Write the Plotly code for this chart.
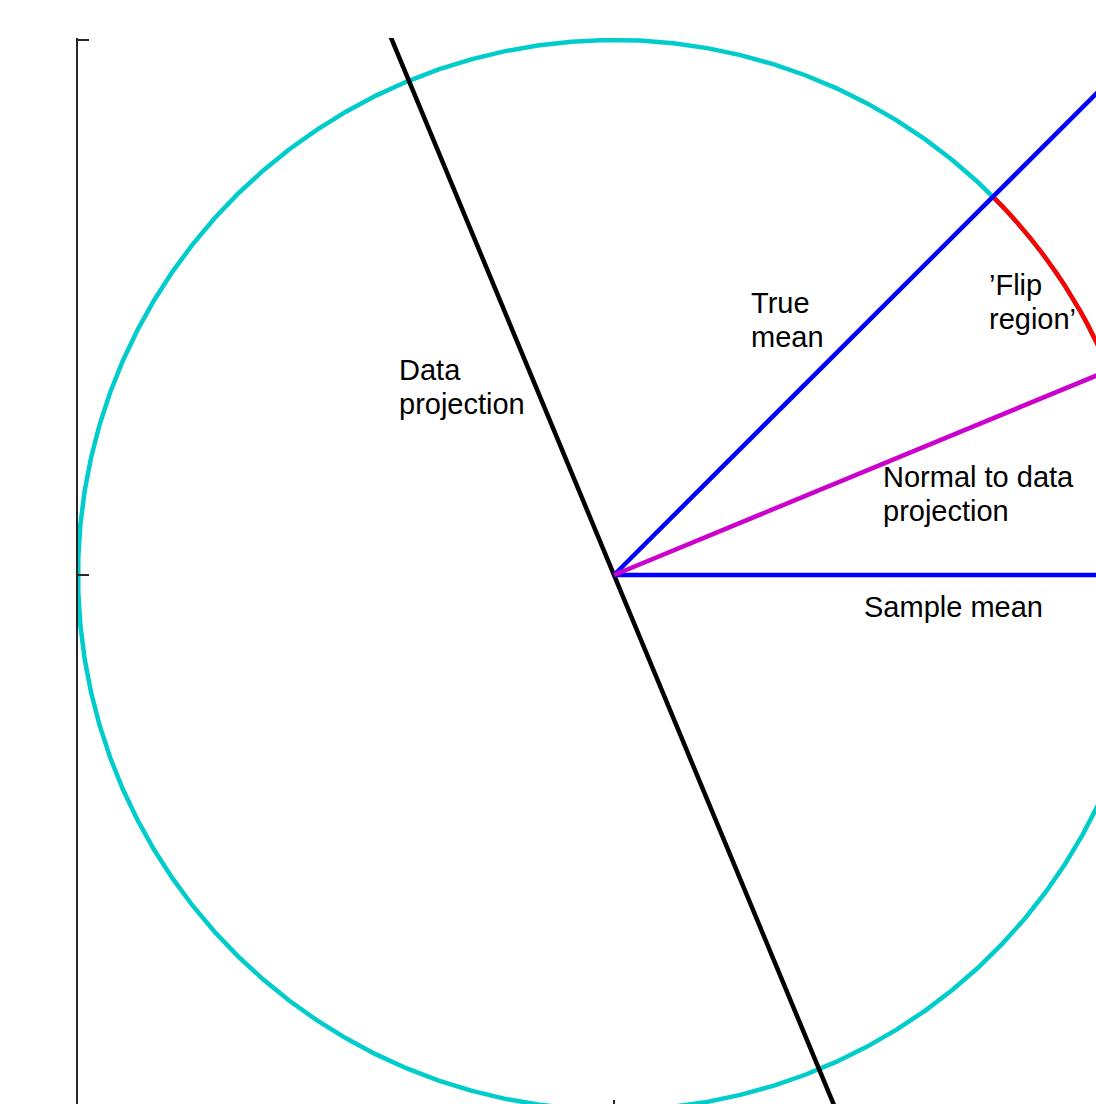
import numpy as np
import plotly.graph_objects as go

# Directions (degrees) of the rays drawn from the origin
data_projection_deg = 112.5
normal_deg = 22.5
true_mean_deg = 45.0
sample_mean_deg = 0.0

# Arc of the unit circle marked as the 'flip region' (degrees)
flip_start_deg = 45.0
flip_end_deg = 0.0

# Labels: lines of text, anchor x, anchor y (middle of the text block)
label_lines = [["Data", "projection"], ["True", "mean"], ["\u2019Flip", "region\u2019"],
               ["Normal to data", "projection"], ["Sample mean"]]
label_x = [-0.401, 0.256, 0.700, 0.502, 0.466]
label_y = [0.351, 0.477, 0.510, 0.151, -0.060]

n_circle = 100
ray_len = 1.6
lw = 4.5

cyan = "rgb(0,204,204)"
blue = "rgb(0,0,255)"
magenta = "rgb(204,0,204)"
red = "rgb(255,0,0)"

fig = go.Figure()

# unit circle
t = np.linspace(0, 2 * np.pi, n_circle)
fig.add_trace(go.Scatter(x=np.cos(t), y=np.sin(t), mode="lines",
                         line=dict(color=cyan, width=lw)))

# flip-region arc
ta = np.deg2rad(np.linspace(flip_end_deg, flip_start_deg, 30))
fig.add_trace(go.Scatter(x=np.cos(ta), y=np.sin(ta), mode="lines",
                         line=dict(color=red, width=lw)))


def ray(deg, both=False):
    a = np.deg2rad(deg)
    s = -ray_len if both else 0.0
    return [s * np.cos(a), ray_len * np.cos(a)], [s * np.sin(a), ray_len * np.sin(a)]


for deg, col, both in [(data_projection_deg, "black", True),
                       (sample_mean_deg, blue, False),
                       (true_mean_deg, blue, False),
                       (normal_deg, magenta, False)]:
    xs, ys = ray(deg, both)
    fig.add_trace(go.Scatter(x=xs, y=ys, mode="lines",
                             line=dict(color=col, width=lw)))

line_gap = 34  # px between text baselines
for lines, x, y in zip(label_lines, label_x, label_y):
    n = len(lines)
    for i, txt in enumerate(lines):
        fig.add_annotation(x=x, y=y, xref="x", yref="y", text=txt, showarrow=False,
                           xanchor="left", yanchor="middle", align="left",
                           xshift=-2, yshift=((n - 1) / 2 - i) * line_gap,
                           font=dict(family="Liberation Sans, Arial, sans-serif",
                                     size=29, color="black"))

W, H = 1096, 1104
L, T = 78, 38
px_x = 536.0
px_y = 535.0
# small headroom so the tick at y=1 is not dropped at the axis edge
y_top = 1 + 2 / px_y

fig.update_layout(
    width=W, height=H,
    margin=dict(l=L, r=0, t=T, b=0, pad=0),
    paper_bgcolor="white", plot_bgcolor="white",
    showlegend=False,
    xaxis=dict(range=[-1, -1 + (W - L) / px_x], showgrid=False, zeroline=False,
               showline=False, ticks="inside", tickvals=[-1, 0, 1], ticklen=4,
               tickcolor="#262626", tickwidth=1.5, showticklabels=False),
    yaxis=dict(range=[y_top - (H - T) / px_y, y_top], showgrid=False, zeroline=False,
               showline=True, linecolor="#262626", linewidth=1.5,
               ticks="inside", tickvals=[-1, 0, 1], ticklen=11,
               tickcolor="#262626", tickwidth=1.5, showticklabels=False),
)

fig.write_html("out.html")
